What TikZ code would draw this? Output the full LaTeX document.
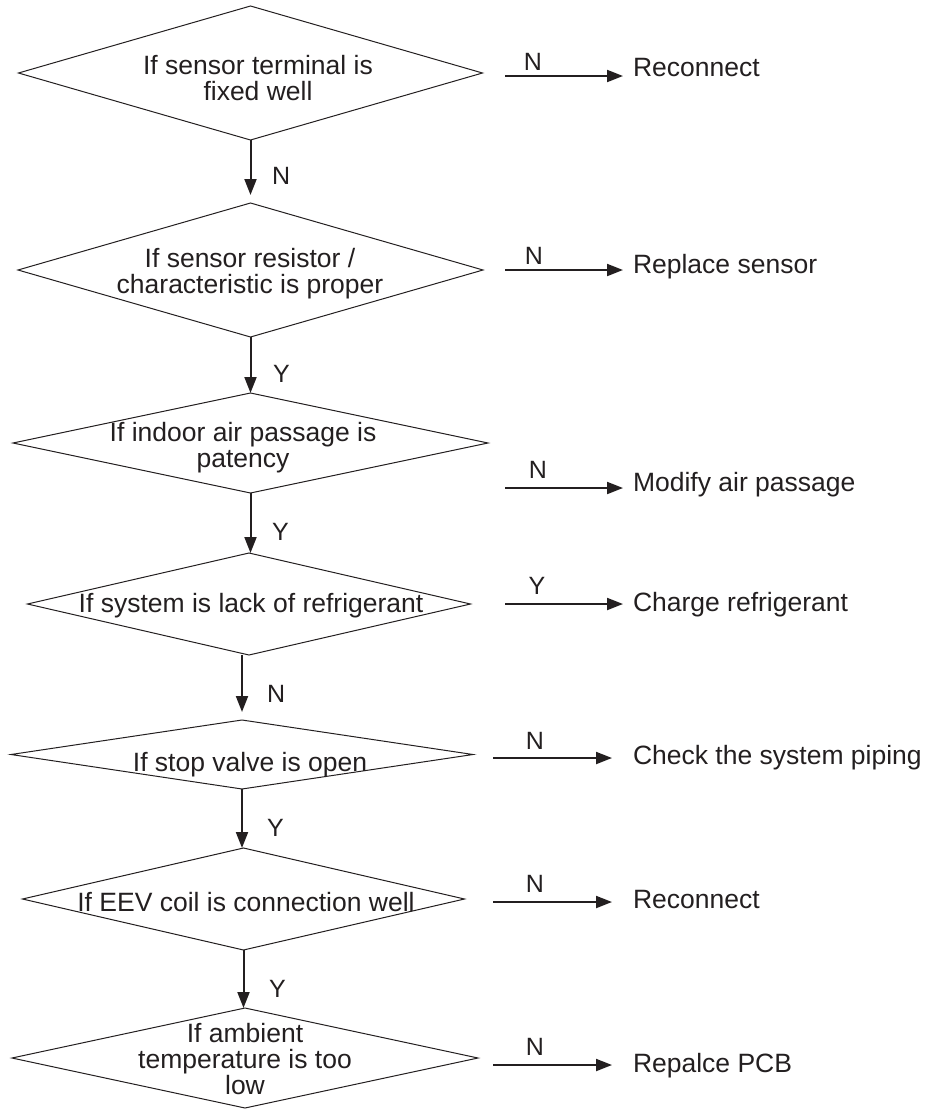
\documentclass[tikz,border=0pt]{standalone}
\usepackage{fontspec}
\setmainfont{Liberation Sans}
\usetikzlibrary{shapes.geometric,arrows.meta,calc}
\definecolor{ink}{HTML}{231F20}
\begin{document}
\begin{tikzpicture}[x=1pt,y=-1pt,
  every node/.style={font=\fontsize{26.5}{26}\selectfont, text=ink, inner sep=0pt, outer sep=0pt},
  dia/.style={draw=ink, line width=1pt, shape=diamond, inner sep=0pt},
  txt/.style={align=center},
  act/.style={anchor=base west},
  lbl/.style={font=\fontsize{25}{25}\selectfont},
  vlbl/.style={lbl, anchor=west},
  flow/.style={draw=ink, line width=2pt, -{Triangle[length=16pt,width=12pt]}},
]
\useasboundingbox (0,0) rectangle (926,1109);

% decision diamonds
\node[dia, minimum width=464pt, minimum height=134pt] (d1) at (250.5,73) {};
\node[dia, minimum width=465pt, minimum height=134pt] (d2) at (250.5,270) {};
\node[dia, minimum width=475pt, minimum height=100pt] (d3) at (250.5,443) {};
\node[dia, minimum width=443pt, minimum height=102pt] (d4) at (249,604) {};
\node[dia, minimum width=462pt, minimum height=69pt] (d5) at (242,754.5) {};
\node[dia, minimum width=442pt, minimum height=102pt] (d6) at (243.5,899) {};
\node[dia, minimum width=466pt, minimum height=100pt] (d7) at (245,1058) {};

% decision texts
\node[txt] (t1) at (258,78) {If sensor terminal is\\fixed well};
\node[txt] (t2) at (250,273.5) {If sensor resistor /\\characteristic is proper};
\node[txt] (t3) at (243,448) {If indoor air passage is\\patency};
\node[txt] (t4) at (251,605.5) {If system is lack of refrigerant};
\node[txt] (t5) at (250,765) {If stop valve is open};
\node[txt] (t6) at (246,902) {If EEV coil is connection well};
\node[txt] (t7) at (245,1059) {If ambient\\temperature is too\\low};

% vertical connectors
\draw[flow, shorten >=8pt] (d1.south) -- (d1.south |- d2.north);
\node[vlbl] (v1) at (272,176) {N};
\draw[flow] (d2.south) -- (d2.south |- d3.north);
\node[vlbl] (v2) at (273,374) {Y};
\draw[flow] (d3.south) -- (d3.south |- d4.north);
\node[vlbl] (v3) at (272,532) {Y};
\draw[flow, shorten >=8pt] (d5.north |- d4.south) -- (d5.north);
\node[vlbl] (v4) at (267,694) {N};
\draw[flow] (d5.south) -- (d5.south |- d6.north);
\node[vlbl] (v5) at (267,828) {Y};
\draw[flow] (d6.south) -- (d6.south |- d7.north);
\node[vlbl] (v6) at (269,989) {Y};

% actions
\node[act] (r1) at (633,76) {Reconnect};
\node[act] (r2) at (633,273) {Replace sensor};
\node[act] (r3) at (633,491) {Modify air passage};
\node[act] (r4) at (633,611) {Charge refrigerant};
\node[act] (r5) at (633,764) {Check the system piping};
\node[act] (r6) at (633,908) {Reconnect};
\node[act] (r7) at (633,1072) {Repalce PCB};

% horizontal connectors
\coordinate (s1) at (505,76);
\coordinate (s2) at (505,270);
\coordinate (s3) at (505,488);
\coordinate (s4) at (505,604);
\coordinate (s5) at (493,758);
\coordinate (s6) at (493,902);
\coordinate (s7) at (493,1065);
\draw[flow, shorten >=10pt] (s1) -- (s1 -| r1.west);
\draw[flow, shorten >=10pt] (s2) -- (s2 -| r2.west);
\draw[flow, shorten >=10pt] (s3) -- (s3 -| r3.west);
\draw[flow, shorten >=10pt] (s4) -- (s4 -| r4.west);
\draw[flow, shorten >=21pt] (s5) -- (s5 -| r5.west);
\draw[flow, shorten >=21pt] (s6) -- (s6 -| r6.west);
\draw[flow, shorten >=21pt] (s7) -- (s7 -| r7.west);
\node[lbl] (h1) at (533,62) {N};
\node[lbl] (h2) at (534,256) {N};
\node[lbl] (h3) at (538,470) {N};
\node[lbl] (h4) at (537,586) {Y};
\node[lbl] (h5) at (535,741) {N};
\node[lbl] (h6) at (535,884) {N};
\node[lbl] (h7) at (535,1047) {N};
\end{tikzpicture}
\end{document}
